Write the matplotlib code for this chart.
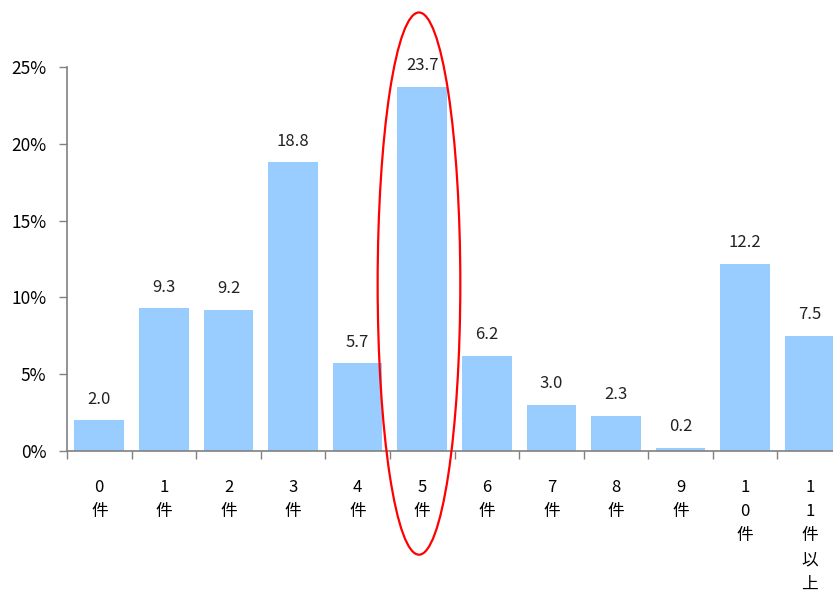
import matplotlib.pyplot as plt
from matplotlib.patches import Ellipse
from matplotlib.ticker import FixedLocator

plt.rcParams['font.family'] = ['Noto Sans CJK JP', 'DejaVu Sans']

categories = ["0\n件", "1\n件", "2\n件", "3\n件", "4\n件", "5\n件", "6\n件",
              "7\n件", "8\n件", "9\n件", "1\n0\n件", "1\n1\n件\n以\n上"]
values = [2.0, 9.3, 9.2, 18.8, 5.7, 23.7, 6.2, 3.0, 2.3, 0.2, 12.2, 7.5]
yticks = [0, 5, 10, 15, 20, 25]
highlight = 5

fig = plt.figure(figsize=(8.33, 5.98), dpi=100)
ax = fig.add_axes([67 / 833, 147 / 598, 775 / 833, 384 / 598])

x = list(range(len(values)))
ax.bar(x, values, width=0.77, color="#99CCFF", zorder=2)
for xi, v in zip(x, values):
    ax.annotate(f"{v:.1f}", (xi, v), xytext=(0, 9), textcoords="offset points",
                ha="center", va="bottom", fontsize=12, color="#222222")

ax.set_xlim(-0.5, len(values) - 0.5)
ax.set_ylim(0, 25)
ax.set_yticks(yticks)
ax.set_yticklabels([f"{t}%" for t in yticks], fontsize=12.5)
ax.tick_params(axis="y", pad=9)

ax.xaxis.set_major_locator(FixedLocator([i - 0.5 for i in range(len(values) + 1)]))
ax.xaxis.set_major_formatter(plt.NullFormatter())
ax.xaxis.set_minor_locator(FixedLocator(x))
ax.set_xticklabels(categories, minor=True, fontsize=12, va="top", linespacing=1.55)
ax.tick_params(axis="x", which="minor", length=0, pad=20)
ax.tick_params(axis="both", which="major", direction="out", length=6,
               color="#808080", width=1)

for side in ("top", "right"):
    ax.spines[side].set_visible(False)
for side in ("left", "bottom"):
    ax.spines[side].set_color("#808080")
    ax.spines[side].set_linewidth(1.2)

ell = Ellipse((highlight - 0.05, 10.9), width=1.28, height=35.3, fill=False,
              edgecolor="red", linewidth=1.6, clip_on=False, zorder=5)
ax.add_patch(ell)

fig.savefig("out.png", dpi=100)
